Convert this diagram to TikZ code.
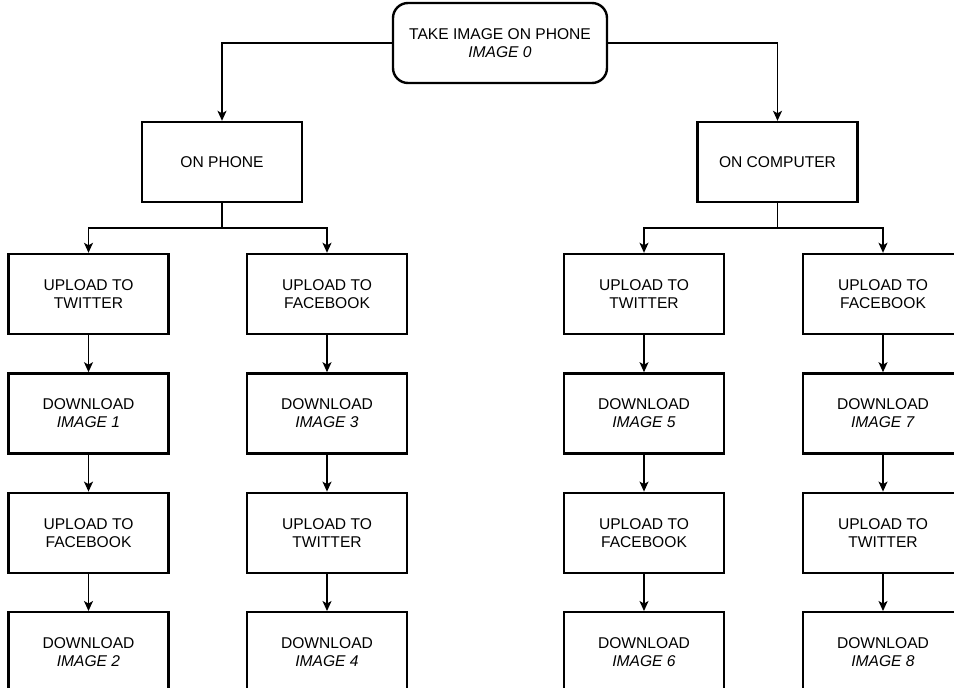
\documentclass[tikz,border=0pt]{standalone}
\usepackage{fontspec}
\setmainfont{Liberation Sans}
\usetikzlibrary{positioning, arrows.meta}

\begin{document}
\begin{tikzpicture}[x=1pt, y=-1pt, node distance=37pt,
    box/.style={draw, line width=2.4pt, minimum width=160pt, minimum height=80pt, align=center, font=\fontsize{15.6}{18}\selectfont},
    link/.style={line width=1.3pt, -{Stealth[length=10pt, width=9pt, inset=2.5pt]}}]
    \useasboundingbox (0,0) rectangle (954,688);
    \clip (0,0) rectangle (954,688);

    % root and the two branches
    \node[box, rounded corners=15pt, minimum width=214pt] (takeImage) at (500,43) {TAKE IMAGE ON PHONE\\\textit{IMAGE 0}};
    \node[box] (onPhone) at (222,162) {ON PHONE};
    \node[box] (onComputer) at (777.5,162) {ON COMPUTER};
    \draw[link] (takeImage.west) -| (onPhone.north);
    \draw[link] (takeImage.east) -| (onComputer.north);

    \coordinate (phoneSplit) at (222,228);
    \coordinate (computerSplit) at (777.5,228);

    % on phone, twitter first
    \node[box] (phoneTw) at (88.5,294) {UPLOAD TO\\TWITTER};
    \node[box, below=of phoneTw] (phoneImgA) {DOWNLOAD\\\textit{IMAGE 1}};
    \node[box, below=of phoneImgA] (phoneTwFb) {UPLOAD TO\\FACEBOOK};
    \node[box, below=of phoneTwFb] (phoneImgB) {DOWNLOAD\\\textit{IMAGE 2}};

    % on phone, facebook first
    \node[box] (phoneFb) at (327,294) {UPLOAD TO\\FACEBOOK};
    \node[box, below=of phoneFb] (phoneImgC) {DOWNLOAD\\\textit{IMAGE 3}};
    \node[box, below=of phoneImgC] (phoneFbTw) {UPLOAD TO\\TWITTER};
    \node[box, below=of phoneFbTw] (phoneImgD) {DOWNLOAD\\\textit{IMAGE 4}};

    % on computer, twitter first
    \node[box] (compTw) at (644,294) {UPLOAD TO\\TWITTER};
    \node[box, below=of compTw] (compImgA) {DOWNLOAD\\\textit{IMAGE 5}};
    \node[box, below=of compImgA] (compTwFb) {UPLOAD TO\\FACEBOOK};
    \node[box, below=of compTwFb] (compImgB) {DOWNLOAD\\\textit{IMAGE 6}};

    % on computer, facebook first
    \node[box] (compFb) at (883,294) {UPLOAD TO\\FACEBOOK};
    \node[box, below=of compFb] (compImgC) {DOWNLOAD\\\textit{IMAGE 7}};
    \node[box, below=of compImgC] (compFbTw) {UPLOAD TO\\TWITTER};
    \node[box, below=of compFbTw] (compImgD) {DOWNLOAD\\\textit{IMAGE 8}};

    \draw[line width=1.3pt] (onPhone.south) -- (phoneSplit);
    \draw[link] (phoneSplit) -| (phoneTw.north);
    \draw[link] (phoneSplit) -| (phoneFb.north);
    \draw[line width=1.3pt] (onComputer.south) -- (computerSplit);
    \draw[link] (computerSplit) -| (compTw.north);
    \draw[link] (computerSplit) -| (compFb.north);

    \draw[link] (phoneTw) -- (phoneImgA);
    \draw[link] (phoneImgA) -- (phoneTwFb);
    \draw[link] (phoneTwFb) -- (phoneImgB);
    \draw[link] (phoneFb) -- (phoneImgC);
    \draw[link] (phoneImgC) -- (phoneFbTw);
    \draw[link] (phoneFbTw) -- (phoneImgD);
    \draw[link] (compTw) -- (compImgA);
    \draw[link] (compImgA) -- (compTwFb);
    \draw[link] (compTwFb) -- (compImgB);
    \draw[link] (compFb) -- (compImgC);
    \draw[link] (compImgC) -- (compFbTw);
    \draw[link] (compFbTw) -- (compImgD);
\end{tikzpicture}
\end{document}
